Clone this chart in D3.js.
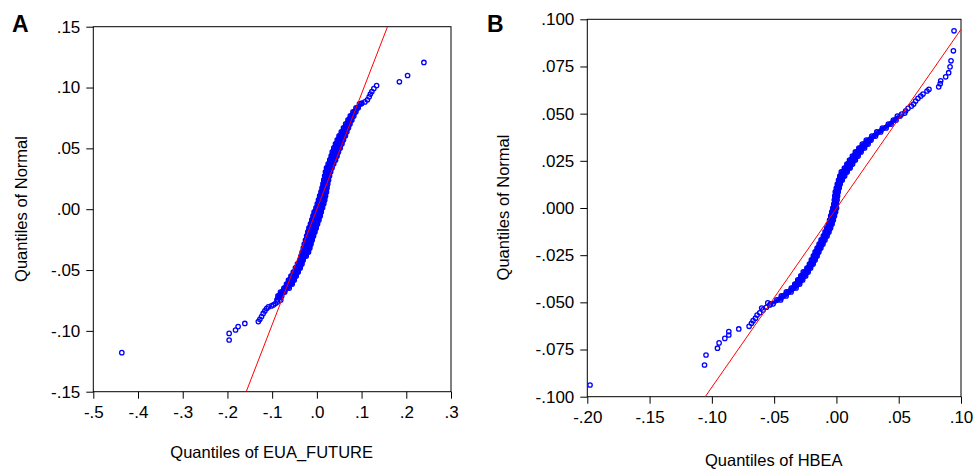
<!DOCTYPE html>
<html lang="en">
<head>
<meta charset="UTF-8">
<title>Quantiles of Normal</title>
<script src="https://cdn.jsdelivr.net/npm/d3@7"></script>
<style>
    body{ margin:0; background:#fff; }
    svg{ display:block; }
    text{ font-family: Arial, "Liberation Sans", sans-serif; fill:#000; }
</style>
</head>
<body>
<svg id="qq" width="973" height="470"></svg>
<script>
// ---- panel A : EUA_FUTURE ----
const xTicksA  = [-0.5,-0.4,-0.3,-0.2,-0.1,0,0.1,0.2,0.3];
const xLabelsA = ["-.5","-.4","-.3","-.2","-.1",".0",".1",".2",".3"];
const yTicksA  = [-0.15,-0.10,-0.05,0,0.05,0.10,0.15];
const yLabelsA = ["-.15","-.10","-.05",".00",".05",".10",".15"];
const lineA = [[-0.158,-0.15],[0.158,0.15]];
// single points in the tails [x, y]
const pointsA = [
    [-0.4362,-0.1179],[-0.1962,-0.1075],[-0.1962,-0.1021],[-0.1819,-0.0993],[-0.1761,-0.0965],
    [-0.1611,-0.0939],[-0.1309,-0.0924],[-0.1275,-0.0905],[-0.1237,-0.0882],[-0.1201,-0.0857],
    [-0.1163,-0.0836],[-0.1125,-0.0816],[-0.1085,-0.0803],[-0.1018,-0.0795],[-0.0973,-0.0787],
    [-0.0928,-0.0775],[-0.0884,-0.0762],
    [0.1007,0.0872],[0.1074,0.0882],[0.1130,0.0899],[0.1170,0.0924],[0.1197,0.0946],
    [0.1230,0.0967],[0.1275,0.0992],[0.1336,0.1016],[0.1846,0.1047],[0.2029,0.1099],[0.2394,0.1206]
];
// dense part: [y, x left edge, x right edge]
const bandA = [
    [-0.0746,-0.0951,-0.0749],[-0.0713,-0.0928,-0.0727],[-0.0681,-0.0872,-0.0660],[-0.0648,-0.0794,-0.0559],
    [-0.0615,-0.0738,-0.0492],[-0.0582,-0.0694,-0.0447],[-0.0549,-0.0638,-0.0403],[-0.0516,-0.0586,-0.0358],
    [-0.0483,-0.0537,-0.0313],[-0.0450,-0.0492,-0.0275],[-0.0418,-0.0441,-0.0246],[-0.0385,-0.0414,-0.0179],
    [-0.0352,-0.0387,-0.0128],[-0.0319,-0.0362,-0.0098],[-0.0286,-0.0340,-0.0072],[-0.0253,-0.0313,-0.0045],
    [-0.0220,-0.0286,-0.0016],[-0.0187,-0.0260,0.0016],[-0.0154,-0.0235,0.0045],[-0.0121,-0.0201,0.0074],
    [-0.0088,-0.0172,0.0105],[-0.0055,-0.0145,0.0134],[-0.0022,-0.0119,0.0157],[0.0011,-0.0078,0.0186],
    [0.0044,-0.0049,0.0213],[0.0076,-0.0022,0.0235],[0.0109,0.0004,0.0253],[0.0142,0.0034,0.0273],
    [0.0175,0.0058,0.0286],[0.0208,0.0078,0.0302],[0.0241,0.0096,0.0320],[0.0274,0.0116,0.0342],
    [0.0307,0.0134,0.0367],[0.0340,0.0157,0.0398],[0.0373,0.0195,0.0436],[0.0405,0.0230,0.0477],
    [0.0438,0.0262,0.0510],[0.0471,0.0286,0.0541],[0.0504,0.0320,0.0582],[0.0537,0.0358,0.0620],
    [0.0570,0.0398,0.0653],[0.0603,0.0438,0.0696],[0.0636,0.0488,0.0729],[0.0669,0.0537,0.0765],
    [0.0701,0.0586,0.0799],[0.0734,0.0638,0.0841],[0.0767,0.0689,0.0884],[0.0800,0.0749,0.0931],
    [0.0833,0.0817,0.0984],[0.0866,0.0895,0.1051]
];

// ---- panel B : HBEA ----
const xTicksB  = [-0.20,-0.15,-0.10,-0.05,0,0.05,0.10];
const xLabelsB = ["-.20","-.15","-.10","-.05",".00",".05",".10"];
const yTicksB  = [-0.100,-0.075,-0.050,-0.025,0,0.025,0.050,0.075,0.100];
const yLabelsB = ["-.100","-.075","-.050","-.025",".000",".025",".050",".075",".100"];
const lineB = [[-0.1053,-0.100],[0.100,0.0947]];
const pointsB = [
    [-0.1978,-0.0938],[-0.1059,-0.0832],[-0.1047,-0.0779],[-0.0955,-0.0743],[-0.0942,-0.0715],
    [-0.0896,-0.0691],[-0.0864,-0.0673],[-0.0864,-0.0655],[-0.0784,-0.0641],[-0.0701,-0.0627],
    [-0.0682,-0.0611],[-0.0669,-0.0597],[-0.0650,-0.0584],[-0.0637,-0.0567],[-0.0616,-0.0555],
    [-0.0589,-0.0540],[-0.0562,-0.0526],[-0.0535,-0.0514],[-0.0600,-0.0530],[-0.0551,-0.0503],
    [0.0524,0.0498],[0.0548,0.0503],[0.0556,0.0515],[0.0575,0.0528],[0.0602,0.0540],[0.0620,0.0551],
    [0.0636,0.0567],[0.0655,0.0581],[0.0677,0.0593],[0.0695,0.0604],[0.0727,0.0620],[0.0743,0.0629],
    [0.0821,0.0642],[0.0833,0.0659],[0.0837,0.0674],[0.0877,0.0695],[0.0901,0.0717],[0.0912,0.0748],
    [0.0920,0.0780],[0.0939,0.0833],[0.0944,0.0939]
];
const bandB = [
    [-0.0508,-0.0551,-0.0487],[-0.0487,-0.0499,-0.0427],[-0.0466,-0.0463,-0.0383],[-0.0445,-0.0423,-0.0343],
    [-0.0424,-0.0383,-0.0303],[-0.0403,-0.0355,-0.0274],[-0.0381,-0.0331,-0.0250],[-0.0360,-0.0307,-0.0226],
    [-0.0339,-0.0287,-0.0206],[-0.0318,-0.0258,-0.0186],[-0.0297,-0.0238,-0.0166],[-0.0275,-0.0222,-0.0150],
    [-0.0254,-0.0206,-0.0134],[-0.0233,-0.0192,-0.0120],[-0.0212,-0.0176,-0.0104],[-0.0191,-0.0160,-0.0087],
    [-0.0169,-0.0144,-0.0071],[-0.0148,-0.0126,-0.0054],[-0.0127,-0.0112,-0.0039],[-0.0106,-0.0098,-0.0026],
    [-0.0085,-0.0086,-0.0014],[-0.0064,-0.0076,-0.0004],[-0.0042,-0.0067,0.0005],[-0.0021,-0.0058,0.0014],
    [0.0000,-0.0050,0.0022],[0.0021,-0.0042,0.0022],[0.0042,-0.0038,0.0026],[0.0064,-0.0034,0.0030],
    [0.0085,-0.0030,0.0035],[0.0106,-0.0022,0.0043],[0.0127,-0.0014,0.0051],[0.0148,-0.0004,0.0068],
    [0.0169,0.0006,0.0087],[0.0191,0.0018,0.0107],[0.0212,0.0043,0.0131],[0.0233,0.0063,0.0151],
    [0.0254,0.0084,0.0173],[0.0275,0.0107,0.0195],[0.0297,0.0131,0.0219],[0.0318,0.0159,0.0247],
    [0.0339,0.0187,0.0275],[0.0360,0.0219,0.0299],[0.0381,0.0263,0.0335],[0.0403,0.0303,0.0376],
    [0.0424,0.0348,0.0420],[0.0445,0.0396,0.0460],[0.0466,0.0436,0.0500],[0.0487,0.0468,0.0532]
];

const svg = d3.select('#qq');
const R = 2.2, SW = 1.3, inset = 2.6;

const panels = [
    {tag:'A', box:[93.3,451,26.7,391.7], xd:[-0.5,0.3], yd:[-0.15,0.15],
     xt:xTicksA, xl:xLabelsA, yt:yTicksA, yl:yLabelsA, line:lineA, pts:pointsA, band:bandA,
     xTitle:'Quantiles of EUA_FUTURE', xTitlePos:[271.7,458], yTitlePos:[27,209], tagPos:[12,32]},
    {tag:'B', box:[587.3,961,19.3,396.7], xd:[-0.20,0.10], yd:[-0.100,0.100],
     xt:xTicksB, xl:xLabelsB, yt:yTicksB, yl:yLabelsB, line:lineB, pts:pointsB, band:bandB,
     xTitle:'Quantiles of HBEA', xTitlePos:[773.8,466], yTitlePos:[509,207.5], tagPos:[487,32]}
];

panels.forEach(function(p){
    let [l,r,t,b] = p.box;
    let x = d3.scaleLinear().domain(p.xd).range([l,r]);
    let y = d3.scaleLinear().domain(p.yd).range([b,t]);
    let g = svg.append('g');

    g.append('clipPath').attr('id','clip'+p.tag)
        .append('rect').attr('x',l).attr('y',t).attr('width',r-l).attr('height',b-t);

    // axes
    let ax = g.append('g').attr('transform','translate(0,'+b+')')
        .call(d3.axisBottom(x).tickValues(p.xt).tickFormat((d,i)=>p.xl[i]).tickSize(7).tickSizeOuter(0).tickPadding(7));
    let ay = g.append('g').attr('transform','translate('+l+',0)')
        .call(d3.axisLeft(y).tickValues(p.yt).tickFormat((d,i)=>p.yl[i]).tickSize(7).tickSizeOuter(0).tickPadding(6));
    [ax,ay].forEach(a=>{
        a.select('.domain').remove();
        a.selectAll('line').attr('stroke','#000');
        a.selectAll('text').attr('font-size','17px').attr('font-family','Arial, Liberation Sans, sans-serif');
    });

    g.append('rect').attr('x',l).attr('y',t).attr('width',r-l).attr('height',b-t)
        .attr('fill','none').attr('stroke','#000').attr('stroke-width',1);

    let plot = g.append('g').attr('clip-path','url(#clip'+p.tag+')');

    // dense part of the quantile curve: outline of the overlapping circles, filled
    let left  = p.band.map(d=>[x(d[1])+1, y(d[0])]);
    let right = p.band.map(d=>[x(d[2])-1, y(d[0])]).reverse();
    plot.append('path')
        .attr('d', d3.line()(left.concat(right)) + 'Z')
        .attr('fill','#0000ff').attr('stroke','#0000ff').attr('stroke-width',1);

    let edges = p.band.flatMap(d=>[[x(d[1])+inset, y(d[0])],[x(d[2])-inset, y(d[0])]]);
    plot.selectAll('circle.e').data(edges).join('circle').attr('class','e')
        .attr('cx',d=>d[0]).attr('cy',d=>d[1]).attr('r',R)
        .attr('fill','none').attr('stroke','#0000ff').attr('stroke-width',SW);

    plot.selectAll('circle.p').data(p.pts).join('circle').attr('class','p')
        .attr('cx',d=>x(d[0])).attr('cy',d=>y(d[1])).attr('r',R)
        .attr('fill','none').attr('stroke','#0000ff').attr('stroke-width',SW);

    // reference line
    plot.append('path').datum(p.line)
        .attr('d',d3.line().x(d=>x(d[0])).y(d=>y(d[1])))
        .attr('stroke','#ff0000').attr('stroke-width',1).attr('fill','none');

    // titles
    g.append('text').attr('x',p.xTitlePos[0]).attr('y',p.xTitlePos[1])
        .attr('text-anchor','middle').attr('font-size','16.5px').text(p.xTitle);
    g.append('text').attr('transform','translate('+p.yTitlePos[0]+','+p.yTitlePos[1]+') rotate(-90)')
        .attr('text-anchor','middle').attr('font-size','16.5px').text('Quantiles of Normal');
    g.append('text').attr('x',p.tagPos[0]).attr('y',p.tagPos[1])
        .attr('font-size','23px').attr('font-weight','bold').text(p.tag);
});
</script>
</body>
</html>
